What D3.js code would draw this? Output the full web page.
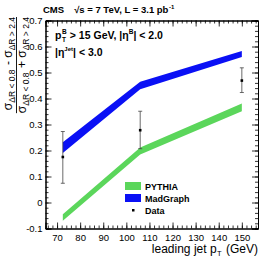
<!DOCTYPE html>
<html>
<head>
<meta charset="utf-8">
<script src="https://cdn.jsdelivr.net/npm/d3@7"></script>
<style>
  body { margin: 0; background: #fff; }
  svg { display: block; font-family: "Liberation Sans", Arial, sans-serif; }
</style>
</head>
<body>
<svg id="chart" width="269" height="256"></svg>
<script>
// leading jet pT bins (GeV)
const ptBins = [72.5, 106, 150];

// data points with errors
const dataVal = [0.175, 0.278, 0.469];
const dataErrHi = [0.273, 0.351, 0.518];
const dataErrLo = [0.074, 0.207, 0.423];

// MC bands
const madLo = [0.19, 0.436, 0.56];
const madHi = [0.232, 0.464, 0.583];
const pythiaLo = [-0.07, 0.185, 0.351];
const pythiaHi = [-0.045, 0.212, 0.381];

const xTicks = [70, 80, 90, 100, 110, 120, 130, 140, 150];
const yTicks = [-0.1, 0, 0.1, 0.2, 0.3, 0.4, 0.5, 0.6, 0.7];

const legendItems = [
  {name: "PYTHIA", type: "box", color: "#5bd65b"},
  {name: "MadGraph", type: "box", color: "#0a10f5"},
  {name: "Data", type: "dot", color: "#000"}
];

const svg = d3.select("#chart");
const box = {left: 45.5, right: 258, top: 20.5, bottom: 228.5};

const x = d3.scaleLinear().domain([65, 157]).range([box.left, box.right]);
const y = d3.scaleLinear().domain([-0.1, 0.7]).range([box.bottom, box.top]);

const fmtY = d => d === 0 ? "0" : d3.format(".1f")(d).replace("\u2212", "-");

// bands
function band(lo, hi, color) {
  const area = d3.area()
    .x((d, i) => x(ptBins[i]))
    .y0((d, i) => y(lo[i]))
    .y1((d, i) => y(hi[i]));
  svg.append("path").datum(lo).attr("d", area).attr("fill", color);
}
band(pythiaLo, pythiaHi, legendItems[0].color);
band(madLo, madHi, legendItems[1].color);

// data with error bars
const pts = svg.append("g").attr("stroke", "#444").attr("stroke-width", 0.8);
ptBins.forEach((p, i) => {
  const cx = x(p);
  pts.append("line").attr("x1", cx).attr("x2", cx)
    .attr("y1", y(dataErrLo[i])).attr("y2", y(dataErrHi[i]));
  [dataErrLo[i], dataErrHi[i]].forEach(v => {
    pts.append("line").attr("x1", cx - 2).attr("x2", cx + 2)
      .attr("y1", y(v)).attr("y2", y(v));
  });
  svg.append("rect").attr("x", cx - 1.3).attr("y", y(dataVal[i]) - 1.3)
    .attr("width", 2.6).attr("height", 2.6).attr("fill", "#000");
});

// axes with inward ticks, ROOT style
const xMinor = d3.range(66, 157, 2);
const yMinor = d3.range(-0.1, 0.7001, 0.02).map(v => +v.toFixed(2));

function axis(gen, scale, tr, major, minor, labels, fmt) {
  const g = svg.append("g").attr("transform", tr);
  g.call(gen(scale).tickValues(minor).tickSize(-3).tickFormat(""));
  const gm = svg.append("g").attr("transform", tr);
  gm.call(gen(scale).tickValues(major).tickSize(-6).tickPadding(labels ? 3 : 0)
    .tickFormat(labels ? fmt : ""));
  [g, gm].forEach(s => {
    s.selectAll("path.domain").attr("stroke", "#000").attr("stroke-width", 1);
    s.selectAll("line").attr("stroke", "#000").attr("stroke-width", 0.8);
  });
  gm.selectAll("text").attr("font-size", 9.5).attr("fill", "#000");
  return gm;
}
const gx = axis(d3.axisBottom, x, `translate(0,${box.bottom})`, xTicks, xMinor, true, d3.format("d"));
gx.selectAll("text").attr("dy", "0.95em");
axis(d3.axisTop, x, `translate(0,${box.top})`, xTicks, xMinor, false);
axis(d3.axisLeft, y, `translate(${box.left},0)`, yTicks, yMinor, true, fmtY);
axis(d3.axisRight, y, `translate(${box.right},0)`, yTicks, yMinor, false);

// rich text: segments laid left to right, width measured; sub/sup share x when "stack"
function rich(parent, x0, y0, segs, bold) {
  const g = parent.append("g");
  let cx = x0;
  segs.forEach(s => {
    const t = g.append("text").attr("x", cx).attr("y", y0 + (s.dy || 0))
      .attr("font-size", s.size).attr("font-weight", bold ? "bold" : "normal")
      .attr("xml:space", "preserve").text(s.t);
    const w = t.node().getComputedTextLength();
    if (!s.stack) cx += w + (s.gap || 0);
  });
  return {g, width: cx - x0};
}

// header
rich(svg, 43, 13, [
  {t: "CMS", size: 9.5, gap: 10},
  {t: "\u221As = 7 TeV, L = 3.1 pb", size: 9.5, gap: 0.5},
  {t: "-1", size: 6, dy: -4}
], true);

// selection cuts
rich(svg, 55, 39, [
  {t: "p", size: 10.5, gap: 0.5},
  {t: "B", size: 6.5, dy: -5, stack: true},
  {t: "T", size: 6.5, dy: 3, gap: 1},
  {t: " > 15 GeV, |\u03B7", size: 10.5},
  {t: "B", size: 6.5, dy: -5},
  {t: "| < 2.0", size: 10.5}
], true);
rich(svg, 55, 56, [
  {t: "|\u03B7", size: 10.5},
  {t: "Jet", size: 6, dy: -5},
  {t: "| < 3.0", size: 10.5}
], true);

// x title, right aligned at box edge
const xtSegs = [
  {t: "leading jet p", size: 12, gap: 0.5},
  {t: "T", size: 7.5, dy: 2.5, gap: 1},
  {t: " (GeV)", size: 12}
];
const xt = rich(svg, 0, 253, xtSegs, false);
xt.g.attr("transform", `translate(${258 - xt.width},0)`);

// y title: rotated fraction, right aligned to the top of the frame
const yt = svg.append("g").attr("transform", "translate(0,17) rotate(-90)");
function fracLine(base, op) {
  const r = rich(yt, 0, base, [
    {t: "\u03C3", size: 12},
    {t: "\u0394R < 0.8", size: 8.5, dy: 3, gap: 1},
    {t: " " + op + " \u03C3", size: 12},
    {t: "\u0394R > 2.4", size: 8.5, dy: 3}
  ], false);
  r.g.attr("transform", `translate(${-r.width},0)`);
  return r.width;
}
const wNum = fracLine(12, "-");
const wDen = fracLine(25.5, "+");
const wBar = Math.max(wNum, wDen);
yt.append("line").attr("x1", -wBar).attr("x2", 0).attr("y1", 16.5).attr("y2", 16.5)
  .attr("stroke", "#000").attr("stroke-width", 0.9);

// legend
const lg = svg.append("g").attr("transform", "translate(125,182)");
legendItems.forEach((d, i) => {
  const row = lg.append("g").attr("transform", `translate(0,${i * 12})`);
  if (d.type === "box") {
    row.append("rect").attr("width", 16).attr("height", 8).attr("fill", d.color);
  } else {
    row.append("rect").attr("x", 7).attr("y", 3).attr("width", 2.5).attr("height", 2.5).attr("fill", d.color);
  }
  row.append("text").attr("x", 20).attr("y", 7.5)
    .attr("font-size", 9).attr("font-weight", "bold").text(d.name);
});
</script>
</body>
</html>
